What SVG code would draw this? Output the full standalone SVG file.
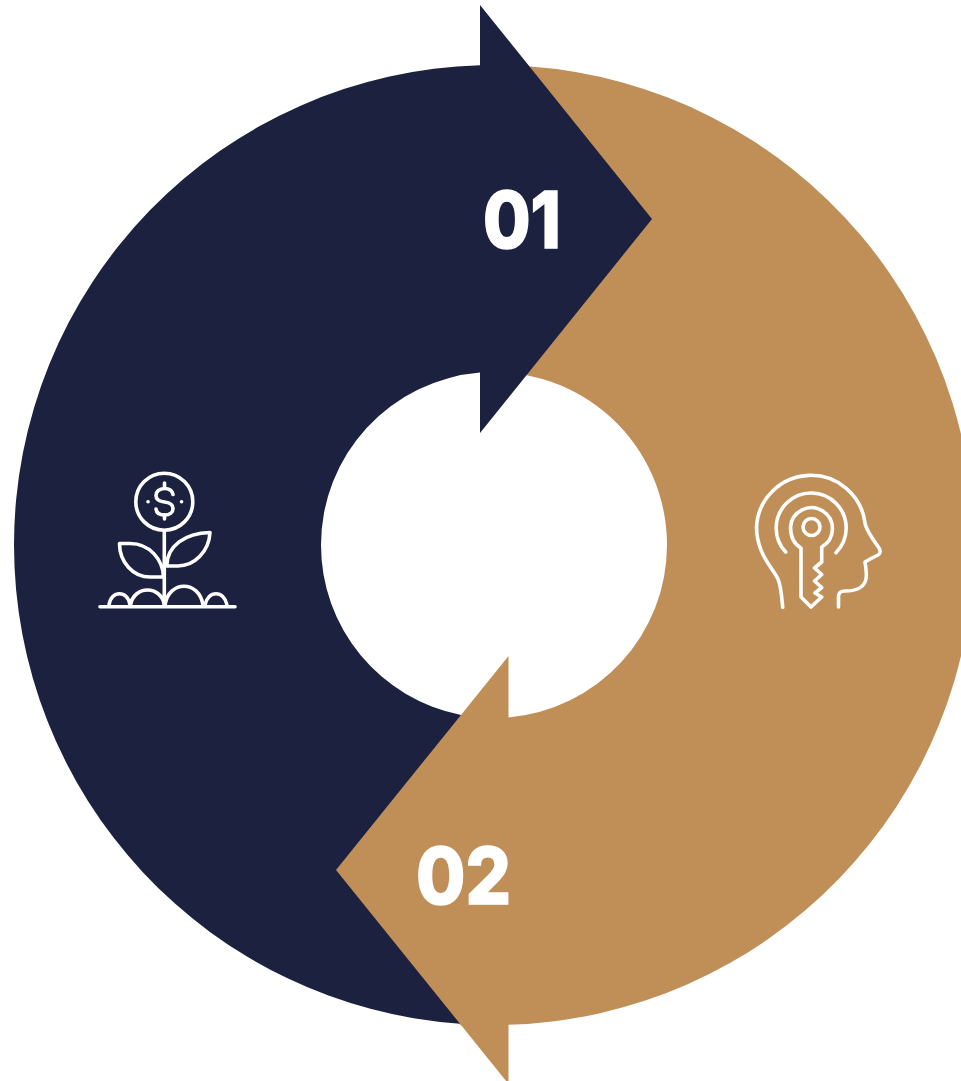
<svg xmlns="http://www.w3.org/2000/svg" width="961" height="1081" viewBox="0 0 961 1081">
<style>
.num{font-family:"Inter","Liberation Sans",sans-serif;font-weight:800;font-size:79px;fill:#fff;stroke:#fff;stroke-width:1.500px;stroke-linejoin:miter}
.ic{fill:none;stroke:#fff;stroke-width:3.600;stroke-linecap:round;stroke-linejoin:round}
</style>
<rect width="961" height="1081" fill="#fff"/>
<g id="segment-02">
<path fill="#bf8f57" d="M480,65.2A480,480 0 0 1 974,545A480,480 0 0 1 508.500,1024.800V1084L462,1026.300L455,1020L330,870L455,720L461,714.900L508.500,656V717.400A173,173 0 0 0 667,545A173,173 0 0 0 480,372.6Z"/>
<text class="num" x="416" y="903.500" textLength="95" lengthAdjust="spacingAndGlyphs">02</text>
</g>
<g id="segment-01">
<path fill="#1c2140" d="M480,5L652,219L480,433V372.6A173,173 0 0 0 321,545A173,173 0 0 0 461,714.900L336,870L460,1023.8A480,480 0 0 1 14,545A480,480 0 0 1 480,65.2Z"/>
<text class="num" x="483" y="247.500" textLength="78" lengthAdjust="spacingAndGlyphs">01</text>
</g>
<g id="icon-plant" class="ic">
<circle cx="164.3" cy="501.7" r="28.5"/>
<path d="M173,494.5C172,490 168,488.5 164.5,488.5C159,488.5 156,492 156,495.5C156,500 160,501.5 164.5,502C169,502.5 173,504.5 173,508.5C173,512 170,515 164.5,515C160,515 156.500,513 156,509"/>
<path d="M164.500,483V487M164.500,515V519M148,501.700H148.100M181.500,501.700H181.600"/>
<path d="M164.300,530.500V605"/>
<path d="M166.700,566C167,546 185,533 210,532.500C209,552 194,566 178,566Z"/>
<path d="M119.500,543.500H130C150,543.500 163,560 163.500,577H150C133,577 119.500,562 119.500,543.500Z"/>
<path d="M100,606.800H235"/>
<path d="M109,605C111,590 128,590 130,605M130.500,605C134,585 161,585 164.500,605M165,605C169,580 199,580 203,605M205,605C208,590 224,590 227,605"/>
</g>
<g id="icon-head-key" class="ic">
<path d="M782.700,607.300C781.500,594 781,586 778,579C774,571 765,561 761,550C757.500,541 756.500,533 756.500,527A54.500,54.500 0 0 1 865,523C866,530 874,541 879,548C881,551 880,554 878,555C874,557 868,560 865,562C866,568 867,574 866,579C864,589 853,591 845,591C840,591 838.500,593 838.500,597V607"/>
<path d="M785.700,552A35,35 0 1 1 836,552.700"/>
<path d="M801,548C794,544 790.500,536 790.500,527A21,21 0 1 1 821.700,547V562L814.500,568L821.700,574.500L814.500,581L821.700,587.500L815,593L821.700,597L811,607L801,597Z"/>
<circle cx="811.500" cy="527" r="8.500"/>
</g>
</svg>
